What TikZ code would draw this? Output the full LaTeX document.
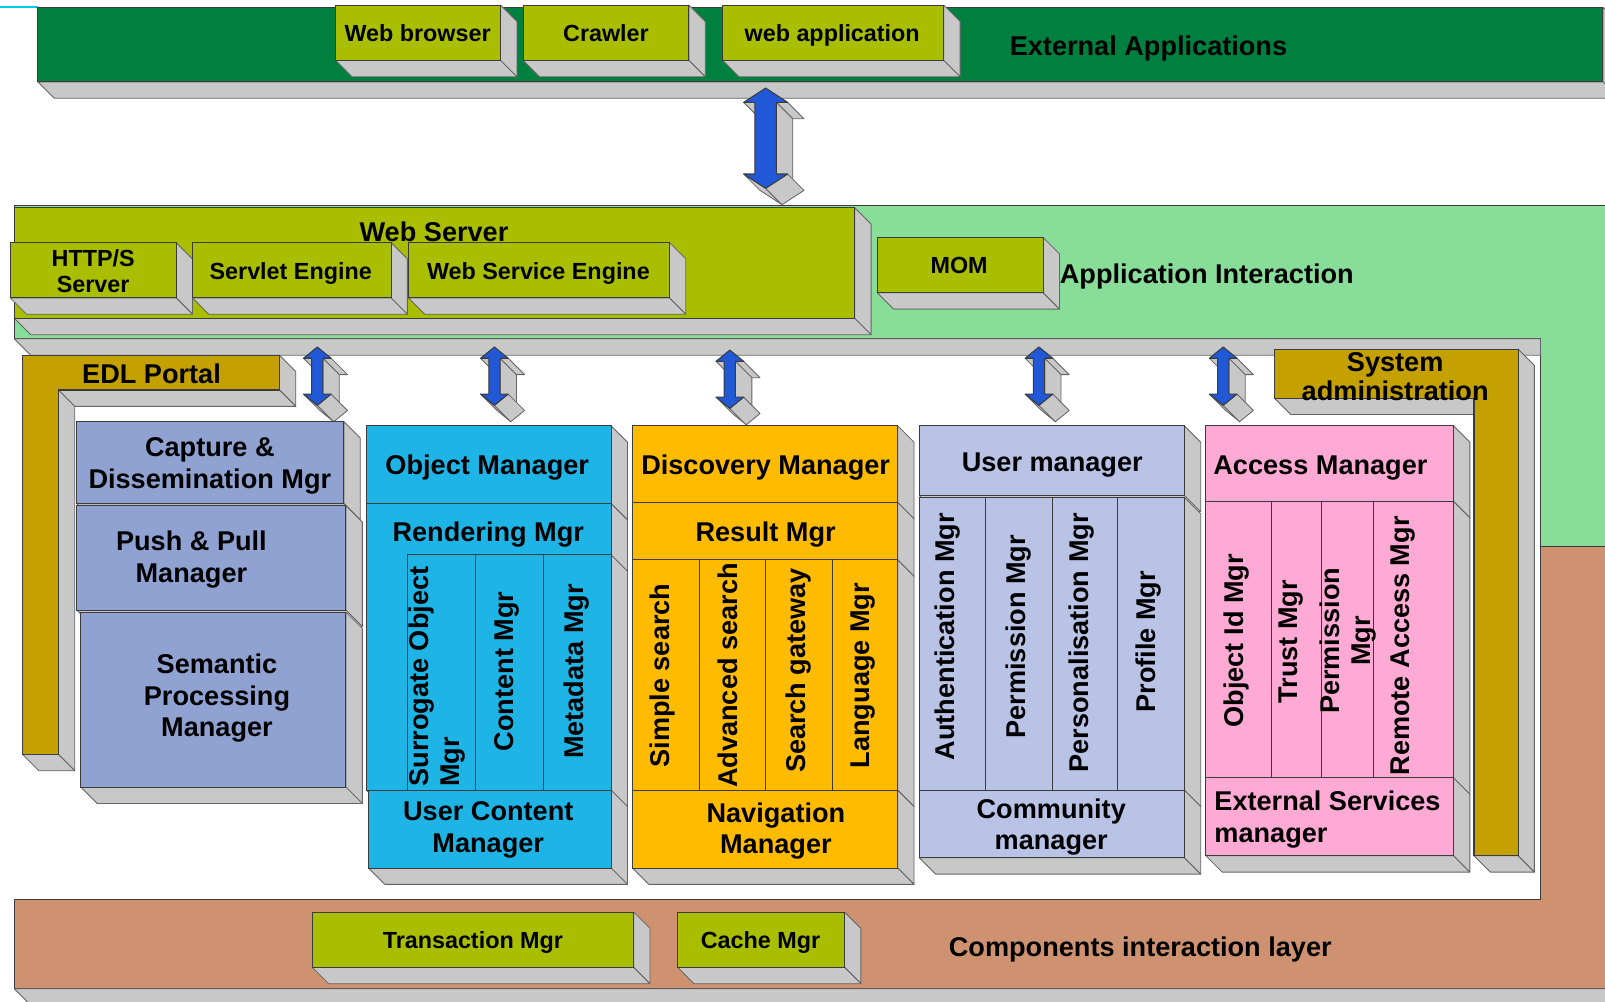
\documentclass[tikz,border=0pt]{standalone}
\usepackage{fontspec}
\setmainfont{Liberation Sans}
\usetikzlibrary{calc}
\definecolor{dgreen}{RGB}{0,128,62}
\definecolor{ygreen}{RGB}{170,190,0}
\definecolor{lgreen}{RGB}{136,221,153}
\definecolor{sidegray}{RGB}{200,200,200}
\definecolor{extline}{RGB}{100,100,100}
\definecolor{faceline}{RGB}{60,60,60}
\definecolor{goldc}{RGB}{196,160,0}
\definecolor{lav}{RGB}{144,162,210}
\definecolor{cyanb}{RGB}{30,180,230}
\definecolor{orng}{RGB}{255,187,0}
\definecolor{peri}{RGB}{184,195,230}
\definecolor{pinkb}{RGB}{255,170,212}
\definecolor{brownc}{RGB}{207,146,112}
\definecolor{arrblue}{RGB}{32,88,216}
\definecolor{cyanline}{RGB}{0,200,235}
\tikzset{
 face/.style={draw=faceline, line width=0.5pt, inner sep=0pt, outer sep=0pt},
 ext/.style={fill=sidegray, draw=extline, line width=0.4pt, line join=round},
 arrowface/.style={fill=arrblue, draw=faceline, line width=0.5pt, line join=round},
 bigtxt/.style={font=\bfseries\fontsize{13.25}{15.5}\selectfont, inner sep=0pt, align=center},
 smalltxt/.style={font=\bfseries\fontsize{11.4}{13}\selectfont, inner sep=0pt, align=center},
 vtxt/.style={bigtxt, rotate=90},
}
\newcommand\cube[6]{%
  \path[ext] (#4,#3) -- (#4+16,#3+16) -- (#4+16,#5+16) -- (#4,#5) -- cycle;
  \path[ext] (#2,#5) -- (#4,#5) -- (#4+16,#5+16) -- (#2+16,#5+16) -- cycle;
  \pgfmathsetmacro\cw{(#4-#2)*0.5}%
  \pgfmathsetmacro\ch{(#5-#3)*0.5}%
  \node[face, fill=#6, minimum width=\cw pt, minimum height=\ch pt] (#1) at ({(#2+#4)/2},{(#3+#5)/2}) {};
}
% name, cx, top, bottom, head length, head half width, shaft half width
\newcommand\dblarrow[7]{%
  \coordinate (#1p1) at (#2,#3);
  \coordinate (#1p2) at (#2+#6,#3+#5);
  \coordinate (#1p3) at (#2+#7,#3+#5);
  \coordinate (#1p4) at (#2+#7,#4-#5);
  \coordinate (#1p5) at (#2+#6,#4-#5);
  \coordinate (#1p6) at (#2,#4);
  \coordinate (#1p7) at (#2-#6,#4-#5);
  \coordinate (#1p8) at (#2-#7,#4-#5);
  \coordinate (#1p9) at (#2-#7,#3+#5);
  \coordinate (#1p10) at (#2-#6,#3+#5);
  \foreach \a/\b in {9/10,2/3,3/4,6/7,5/6}{
    \path[ext] (#1p\a) -- (#1p\b) -- ($(#1p\b)+(16,16)$) -- ($(#1p\a)+(16,16)$) -- cycle;}
  \path[arrowface] (#1p1) -- (#1p2) -- (#1p3) -- (#1p4) -- (#1p5) -- (#1p6) -- (#1p7) -- (#1p8) -- (#1p9) -- (#1p10) -- cycle;
}
\begin{document}
\begin{tikzpicture}[x=0.5pt,y=-0.5pt]
\useasboundingbox (0,0) rectangle (1568,978);
% top-left cyan stroke
\draw[cyanline, line width=1pt] (0,6.5) -- (37,6.5);
% application interaction layer (light green)
\path[face, fill=lgreen] (14,201) -- (1590,201) -- (1590,534) -- (1505,534) -- (1505,331) -- (14,331) -- cycle;
\path[ext] (14,331) -- (1505,331) -- (1505,347) -- (30,347) -- cycle;
% components interaction layer (brown)
\path[face, fill=brownc] (1505,534) -- (1590,534) -- (1590,966) -- (14,966) -- (14,879) -- (1505,879) -- cycle;
\path[ext] (14,966) -- (1590,966) -- (1606,982) -- (30,982) -- cycle;
% external applications
\cube{extapp}{37}{7}{1566}{80}{dgreen}
\cube{browser}{328}{5}{489}{59}{ygreen}
\cube{crawler}{511}{5}{673}{59}{ygreen}
\cube{webapp}{706}{5}{922}{59}{ygreen}
% web server
\cube{websrv}{14}{203}{835}{311}{ygreen}
\cube{http}{10}{237}{172}{291}{ygreen}
\cube{servlet}{188}{237}{382}{291}{ygreen}
\cube{wse}{399}{237}{654}{291}{ygreen}
\cube{mom}{857}{232}{1019}{286}{ygreen}
% main arrow
\dblarrow{big}{748}{86}{184}{14}{21.5}{10.5}
% EDL portal
\path[ext] (273,347) -- (289,363) -- (289,397) -- (273,381) -- cycle;
\path[ext] (57,381) -- (273,381) -- (289,397) -- (73,397) -- cycle;
\path[ext] (57,381) -- (73,397) -- (73,753) -- (57,737) -- cycle;
\path[ext] (22,737) -- (57,737) -- (73,753) -- (38,753) -- cycle;
\path[face, fill=goldc] (22,347) -- (273,347) -- (273,381) -- (57,381) -- (57,737) -- (22,737) -- cycle;
% system administration
\path[ext] (1483,341) -- (1499,357) -- (1499,852) -- (1483,836) -- cycle;
\path[ext] (1440,836) -- (1483,836) -- (1499,852) -- (1456,852) -- cycle;
\path[ext] (1245,389) -- (1440,389) -- (1456,405) -- (1261,405) -- cycle;
\path[face, fill=goldc] (1245,341) -- (1483,341) -- (1483,836) -- (1440,836) -- (1440,389) -- (1245,389) -- cycle;
% small arrows
\dblarrow{a1}{310}{339}{396}{11}{13.5}{5.5}
\dblarrow{a2}{483}{339}{396}{11}{13.5}{5.5}
\dblarrow{a3}{713}{342}{399}{11}{13.5}{5.5}
\dblarrow{a4}{1015}{339}{396}{11}{13.5}{5.5}
\dblarrow{a5}{1195}{339}{396}{11}{13.5}{5.5}
% column A
\cube{capture}{75}{412}{336}{492}{lav}
\cube{push}{75}{494}{338}{596}{lav}
\cube{sem}{79}{598}{338}{769}{lav}
% column B
\cube{objm}{358}{416}{597}{492}{cyanb}
\cube{rend}{358}{492}{597}{772}{cyanb}
\cube{surr}{398}{542}{465}{772}{cyanb}
\cube{cont}{465}{542}{531}{772}{cyanb}
\cube{meta}{531}{542}{597}{772}{cyanb}
\cube{ucm}{360}{772}{597}{848}{cyanb}
% column C
\cube{disc}{618}{416}{877}{491}{orng}
\cube{result}{618}{491}{877}{547}{orng}
\cube{simple}{618}{547}{683}{772}{orng}
\cube{adv}{683}{547}{748}{772}{orng}
\cube{gate}{748}{547}{813}{772}{orng}
\cube{lang}{813}{547}{877}{772}{orng}
\cube{nav}{618}{772}{877}{848}{orng}
% column D
\cube{userm}{898}{416}{1157}{484}{peri}
\cube{auth}{898}{486}{963}{772}{peri}
\cube{perm}{963}{486}{1028}{772}{peri}
\cube{pers}{1028}{486}{1092}{772}{peri}
\cube{prof}{1092}{486}{1157}{772}{peri}
\cube{comm}{898}{772}{1157}{838}{peri}
% column E
\cube{access}{1178}{416}{1420}{490}{pinkb}
\cube{oid}{1178}{490}{1242}{760}{pinkb}
\cube{trust}{1242}{490}{1291}{760}{pinkb}
\cube{permb}{1291}{490}{1342}{760}{pinkb}
\cube{remote}{1342}{490}{1420}{760}{pinkb}
\cube{extsrv}{1178}{760}{1420}{836}{pinkb}
% components layer boxes
\cube{trans}{305}{891}{619}{945}{ygreen}
\cube{cache}{662}{891}{825}{945}{ygreen}
% ---------- texts ----------
\node[smalltxt, anchor=base] (t-browser) at (408,40.8) {Web browser};
\node[smalltxt, anchor=base] (t-crawler) at (592,40.8) {Crawler};
\node[smalltxt, anchor=base] (t-webapp) at (813,40.8) {web application};
\node[bigtxt, anchor=base] (t-extapp) at (1122,54) {External Applications};
\node[bigtxt, anchor=base] (t-websrv) at (424,235.8) {Web Server};
\node[smalltxt] (t-http) at (91,265) {HTTP/S\\Server};
\node[smalltxt, anchor=base] (t-servlet) at (284,273) {Servlet Engine};
\node[smalltxt, anchor=base] (t-wse) at (526,273) {Web Service Engine};
\node[smalltxt, anchor=base] (t-mom) at (937,267.2) {MOM};
\node[bigtxt, anchor=base] (t-appint) at (1179,276.5) {Application Interaction};
\node[bigtxt, anchor=base] (t-edl) at (148,374.5) {EDL Portal};
\node[bigtxt, font=\bfseries\fontsize{13.25}{14.3}\selectfont] (t-sys) at (1363,368) {System\\administration};
\node[bigtxt] (t-capture) at (205,455) {Capture \&\\Dissemination Mgr};
\node[bigtxt] (t-push) at (187,547) {Push \& Pull\\Manager};
\node[bigtxt] (t-sem) at (212,682) {Semantic\\Processing\\Manager};
\node[bigtxt, anchor=base] (t-objm) at (476,464) {Object Manager};
\node[bigtxt, anchor=base] (t-rend) at (477,529) {Rendering Mgr};
\node[vtxt, align=left] (t-surr) at (427,661) {Surrogate Object\\Mgr};
\node[vtxt] (t-cont) at (495,656) {Content Mgr};
\node[vtxt] (t-meta) at (563,656) {Metadata Mgr};
\node[bigtxt] (t-ucm) at (477,811) {User Content\\Manager};
\node[bigtxt, anchor=base] (t-disc) at (748,464) {Discovery Manager};
\node[bigtxt, anchor=base] (t-result) at (748,529) {Result Mgr};
\node[vtxt] (t-simple) at (647,660) {Simple search};
\node[vtxt] (t-adv) at (711,660) {Advanced search};
\node[vtxt] (t-gate) at (780,655) {Search gateway};
\node[vtxt] (t-lang) at (843,660) {Language Mgr};
\node[bigtxt] (t-nav) at (758,812) {Navigation\\Manager};
\node[bigtxt, anchor=base] (t-userm) at (1028,460.5) {User manager};
\node[vtxt] (t-auth) at (926,622) {Authentication Mgr};
\node[vtxt] (t-perm) at (995,622) {Permission Mgr};
\node[vtxt] (t-pers) at (1057,628) {Personalisation Mgr};
\node[vtxt] (t-prof) at (1122,627) {Profile Mgr};
\node[bigtxt] (t-comm) at (1027,808) {Community\\manager};
\node[bigtxt, anchor=base] (t-access) at (1290,463.5) {Access Manager};
\node[vtxt] (t-oid) at (1208,626) {Object Id Mgr};
\node[vtxt] (t-trust) at (1261,627) {Trust Mgr};
\node[vtxt] (t-permb) at (1317,626) {Permission\\Mgr};
\node[vtxt] (t-remote) at (1371,631) {Remote Access Mgr};
\node[bigtxt, align=left, anchor=west] (t-extsrv) at (1186,801) {External Services\\manager};
\node[smalltxt, anchor=base] (t-trans) at (462,926.2) {Transaction Mgr};
\node[smalltxt, anchor=base] (t-cache) at (743,926.2) {Cache Mgr};
\node[bigtxt, anchor=base] (t-comp) at (1114,934) {Components interaction layer};
\end{tikzpicture}
\end{document}
